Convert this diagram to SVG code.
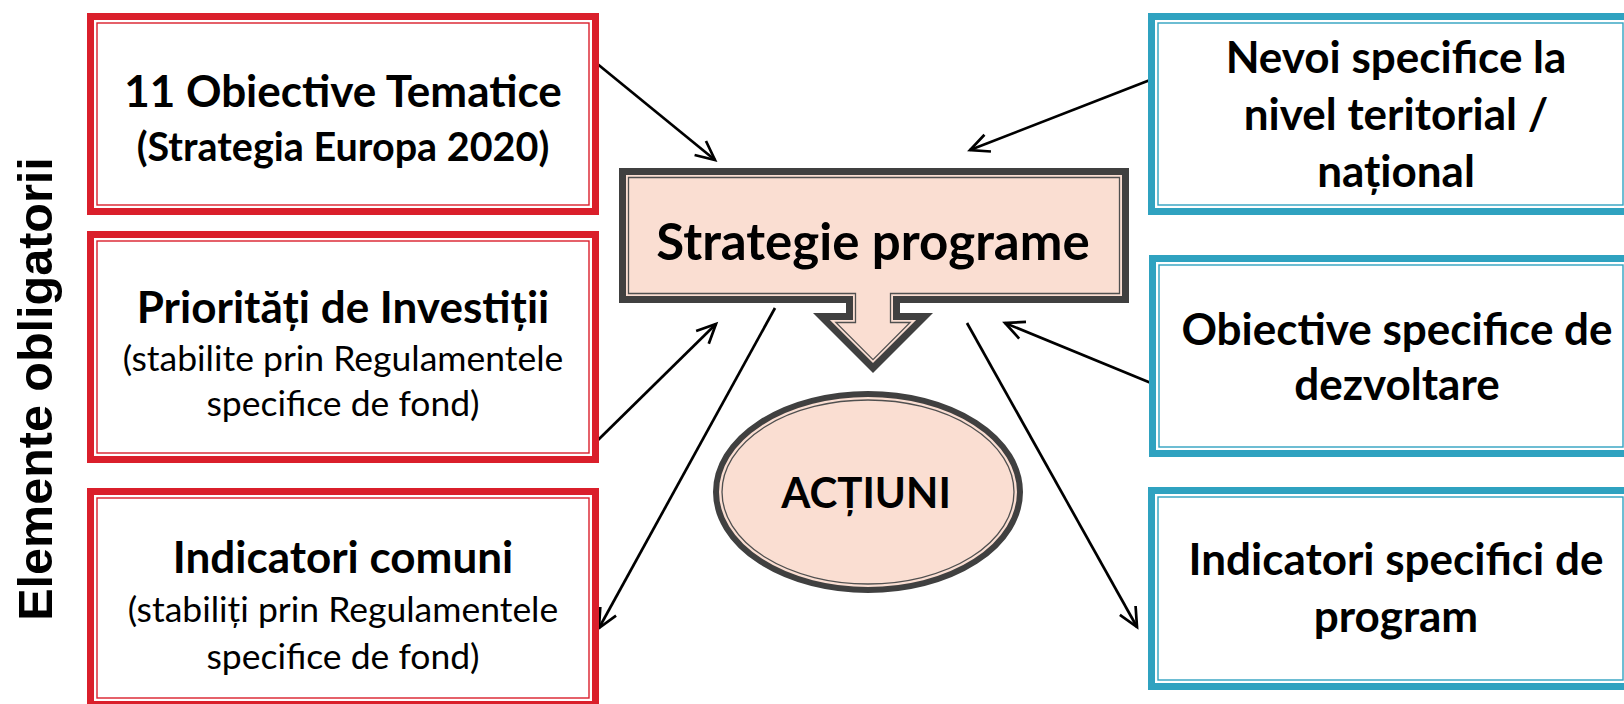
<svg xmlns="http://www.w3.org/2000/svg" width="1624" height="704" viewBox="0 0 1624 704">
<defs>
<style>
.rb{fill:none;stroke:#DA1F2B;stroke-width:7}
.rt{fill:none;stroke:#DA1F2B;stroke-width:1.4}
.bb{fill:none;stroke:#2FA2C0;stroke-width:7}
.bt{fill:none;stroke:#2FA2C0;stroke-width:1.4}
.t{font-family:Lato,"Liberation Sans",sans-serif;fill:#000;text-anchor:middle}
.b{font-weight:bold}
.l{font-size:44px}
.m{font-size:39.5px}
.s{font-size:35.5px;font-weight:normal}
.c{fill:none;stroke:#000;stroke-width:2.7}
</style>
<marker id="ah" markerUnits="userSpaceOnUse" markerWidth="24" markerHeight="24" viewBox="0 0 24 24" refX="22" refY="12" orient="auto" overflow="visible">
<path d="M3,3 L22,12 L3,21" fill="none" stroke="#000" stroke-width="2.7"/>
</marker>
</defs>
<rect width="1624" height="704" fill="#fff"/>

<text class="t b" x="0" y="0" transform="translate(52,389) rotate(-90)" style="font-family:'Liberation Sans',Arial,sans-serif;font-size:48.5px">Elemente obligatorii</text>

<g id="connectors">
<line class="c" x1="595" y1="62" x2="715" y2="160" marker-end="url(#ah)"/>
<line class="c" x1="1150" y1="80" x2="970" y2="150" marker-end="url(#ah)"/>
<line class="c" x1="597" y1="441" x2="716" y2="324" marker-end="url(#ah)"/>
<line class="c" x1="775" y1="308" x2="599" y2="628" marker-end="url(#ah)"/>
<line class="c" x1="1151" y1="383" x2="1005" y2="323" marker-end="url(#ah)"/>
<line class="c" x1="967" y1="323" x2="1137" y2="627" marker-end="url(#ah)"/>
</g>

<g id="box-obiective-tematice">
<rect x="87" y="13" width="512" height="202" fill="#fff"/>
<rect class="rb" x="90.5" y="16.5" width="505" height="195"/>
<rect class="rt" x="97" y="23" width="492" height="182"/>
<text class="t b l" x="343" y="107">11 Obiective Tematice</text>
<text class="t b m" x="343" y="161">(Strategia Europa 2020)</text>
</g>

<g id="box-prioritati">
<rect x="87" y="231" width="512" height="232" fill="#fff"/>
<rect class="rb" x="90.5" y="234.5" width="505" height="225"/>
<rect class="rt" x="97" y="241" width="492" height="212"/>
<text class="t b l" x="343" y="323">Priorități de Investiții</text>
<text class="t s" x="343" y="371">(stabilite prin Regulamentele</text>
<text class="t s" x="343" y="416">specifice de fond)</text>
</g>

<g id="box-indicatori-comuni">
<rect x="87" y="488" width="512" height="220" fill="#fff"/>
<rect class="rb" x="90.5" y="491.5" width="505" height="213"/>
<rect class="rt" x="97" y="498" width="492" height="200"/>
<text class="t b l" x="343" y="573">Indicatori comuni</text>
<text class="t s" x="343" y="622">(stabiliți prin Regulamentele</text>
<text class="t s" x="343" y="669">specifice de fond)</text>
</g>

<g id="box-nevoi">
<rect x="1148" y="13" width="490" height="202" fill="#fff"/>
<rect class="bb" x="1151.5" y="16.5" width="483" height="195"/>
<rect class="bt" x="1158" y="23" width="465" height="182"/>
<text class="t b l" x="1396" y="73">Nevoi specifice la</text>
<text class="t b l" x="1396" y="130">nivel teritorial /</text>
<text class="t b l" x="1396" y="187">național</text>
</g>

<g id="box-obiective-specifice">
<rect x="1149" y="255" width="490" height="202" fill="#fff"/>
<rect class="bb" x="1152.5" y="258.5" width="483" height="195"/>
<rect class="bt" x="1159" y="265" width="464" height="182"/>
<text class="t b l" x="1397" y="345">Obiective specifice de</text>
<text class="t b l" x="1397" y="400">dezvoltare</text>
</g>

<g id="box-indicatori-specifici">
<rect x="1148" y="487" width="490" height="203" fill="#fff"/>
<rect class="bb" x="1151.5" y="490.5" width="483" height="196"/>
<rect class="bt" x="1158" y="497" width="465" height="183"/>
<text class="t b l" x="1396" y="575">Indicatori specifici de</text>
<text class="t b l" x="1396" y="632">program</text>
</g>

<g id="strategie-programe">
<path d="M619,168 L1129,168 L1129,303 L900,303 L900,313 L933,313 L873,373 L813,313 L846,313 L846,303 L619,303 Z" fill="#404040"/>
<path d="M626,175 L1122,175 L1122,296 L893,296 L893,320 L916.1,320 L873,363.1 L829.9,320 L853,320 L853,296 L626,296 Z" fill="#FADED2"/>
<path d="M628.5,177.5 L1119.5,177.5 L1119.5,293.5 L890.5,293.5 L890.5,322.5 L910.1,322.5 L873,359.6 L835.9,322.5 L855.5,322.5 L855.5,293.5 L628.5,293.5 Z" fill="none" stroke="#505050" stroke-width="1.3"/>
<text class="t b" x="873" y="260" style="font-size:51px">Strategie programe</text>
</g>

<g id="actiuni">
<ellipse cx="868" cy="492" rx="152" ry="98" fill="#FADED2" stroke="#404040" stroke-width="6"/>
<ellipse cx="868" cy="492" rx="146" ry="92" fill="none" stroke="#505050" stroke-width="1.3"/>
<text class="t b" x="866" y="508" style="font-size:42px">ACȚIUNI</text>
</g>
</svg>
